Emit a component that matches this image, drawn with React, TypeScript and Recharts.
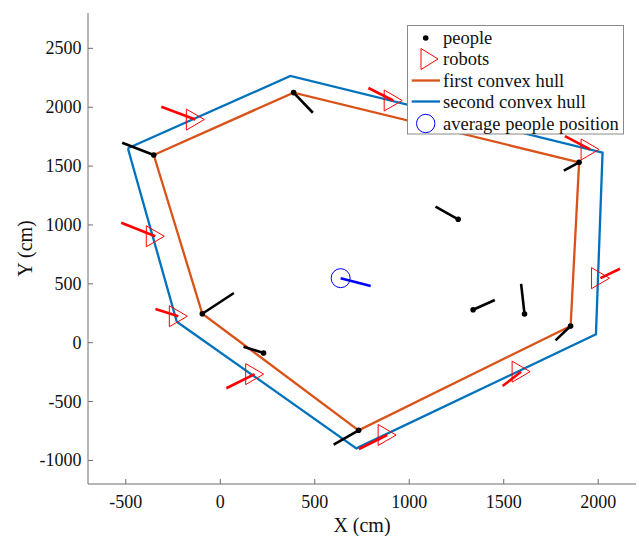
import React from "react";
import { ComposedChart, Line, Scatter, XAxis, YAxis } from "recharts";

// people positions and the end of their heading segments
const PEOPLE_X = [-352, 388, 1899, 1259, 1338, 1610, 1854, 732, 229, -95];
const PEOPLE_Y = [1594, 2124, 1532, 1048, 280, 244, 142, -744, -87, 246];
const PEOPLE_HEAD_X = [-519, 490, 1818, 1139, 1453, 1592, 1774, 600, 123, 72];
const PEOPLE_HEAD_Y = [1698, 1953, 1461, 1155, 363, 499, 20, -866, -34, 422];

// robot positions and the start of their tails
const ROBOT_X = [-132, -344, -222, 182, 883, 1592, 2012, 1957, 915];
const ROBOT_Y = [1895, 904, 225, -267, -784, -246, 548, 1641, 2057];
const ROBOT_TAIL_X = [-312, -524, -343, 32, 734, 1494, 2115, 1824, 784];
const ROBOT_TAIL_Y = [2004, 1019, 286, -387, -903, -368, 628, 1755, 2163];

// hull vertices (closed)
const HULL1_X = [-352, 388, 1899, 1854, 732, -95, -352];
const HULL1_Y = [1594, 2124, 1532, 142, -744, 246, 1594];
const HULL2_X = [-489, 371, 2023, 1988, 720, -230, -489];
const HULL2_Y = [1651, 2265, 1614, 71, -897, 178, 1651];

const AVG_X = [637];
const AVG_Y = [548];
const AVG_HEAD_X = [796];
const AVG_HEAD_Y = [481];

const X_TICKS = [-500, 0, 500, 1000, 1500, 2000];
const Y_TICKS = [-1000, -500, 0, 500, 1000, 1500, 2000, 2500];

const FONT = "'Liberation Serif', 'Times New Roman', serif";
const ORANGE = "#D95319";
const BLUE = "#0072BD";
const RED = "#FF0000";
const AXIS = "#6e6e6e";

const pts = (xs: number[], ys: number[]) => xs.map((x, i) => ({ x, y: ys[i] }));
const seg = (x0: number, y0: number, x1: number, y1: number) => [
  { x: x0, y: y0 },
  { x: x1, y: y1 },
];

const XTick = ({ x, y, payload }: any) => (
  <g>
    <line x1={x} x2={x} y1={y} y2={y - 5} stroke={AXIS} />
    <text x={x} y={y + 24} textAnchor="middle" fontSize={18} fontFamily={FONT} fill="#111">
      {payload.value}
    </text>
  </g>
);

const YTick = ({ x, y, payload }: any) => (
  <g>
    <line x1={x} x2={x + 5} y1={y} y2={y} stroke={AXIS} />
    <text x={x - 6.5} y={y + 6} textAnchor="end" fontSize={18} fontFamily={FONT} fill="#111">
      {payload.value}
    </text>
  </g>
);

const Triangle = ({ cx, cy }: any) => (
  <polygon
    points={`${cx - 9},${cy - 10.5} ${cx + 9},${cy} ${cx - 9},${cy + 10.5}`}
    fill="none"
    stroke={RED}
    strokeWidth={1}
  />
);

const Dot = ({ cx, cy }: any) => <circle cx={cx} cy={cy} r={2.8} fill="#000" />;

const Ring = ({ cx, cy }: any) => <circle cx={cx} cy={cy} r={9.5} fill="none" stroke="#0000FF" strokeWidth={1} />;

const LEGEND = ["people", "robots", "first convex hull", "second convex hull", "average people position"];
const ROWS = [38, 59, 80.5, 101.5, 123.5];

function LegendBox() {
  return (
    <svg width={639} height={536} style={{ position: "absolute", left: 0, top: 0, pointerEvents: "none" }}>
      <rect x={407.5} y={25.5} width={216} height={108.5} fill="#fff" stroke="#8a8a8a" strokeWidth={1} />
      <circle cx={425.7} cy={ROWS[0]} r={2.8} fill="#000" />
      <polygon
        points={`${421},${ROWS[1] - 10.5} ${438},${ROWS[1]} ${421},${ROWS[1] + 10.5}`}
        fill="none"
        stroke={RED}
      />
      <line x1={411.7} x2={440} y1={ROWS[2]} y2={ROWS[2]} stroke={ORANGE} strokeWidth={2.3} />
      <line x1={411.7} x2={440} y1={ROWS[3]} y2={ROWS[3]} stroke={BLUE} strokeWidth={2.3} />
      <circle cx={425.7} cy={ROWS[4]} r={9.2} fill="none" stroke="#0000FF" />
      {LEGEND.map((t, i) => (
        <text key={t} x={443} y={ROWS[i] + 6} fontSize={18.5} fontFamily={FONT} fill="#111">
          {t}
        </text>
      ))}
    </svg>
  );
}

export default function App() {
  const people = pts(PEOPLE_X, PEOPLE_Y);
  const robots = pts(ROBOT_X, ROBOT_Y);
  const avg = pts(AVG_X, AVG_Y);
  return (
    <div style={{ position: "absolute", left: 0, top: 0, width: 639, height: 536, background: "#fff" }}>
      <ComposedChart width={639} height={536} margin={{ top: 13, right: 3, bottom: 22, left: 8 }}>
        <XAxis
          type="number"
          dataKey="x"
          domain={[-700, 2200]}
          ticks={X_TICKS}
          allowDataOverflow
          height={30}
          stroke={AXIS}
          tickLine={false}
          tickSize={0}
          tickMargin={0}
          tick={<XTick />}
          label={{ value: "X (cm)", position: "bottom", offset: 4, fontSize: 20, fontFamily: FONT, fill: "#111" }}
        />
        <YAxis
          type="number"
          dataKey="y"
          domain={[-1200, 2800]}
          ticks={Y_TICKS}
          allowDataOverflow
          width={80}
          stroke={AXIS}
          tickLine={false}
          tickSize={0}
          tickMargin={0}
          tick={<YTick />}
          label={{
            value: "Y (cm)",
            angle: -90,
            position: "insideLeft",
            offset: 17,
            fontSize: 20,
            fontFamily: FONT,
            fill: "#111",
            style: { textAnchor: "middle" },
          }}
        />
        <Line data={pts(HULL1_X, HULL1_Y)} dataKey="y" stroke={ORANGE} strokeWidth={2.3} dot={false} isAnimationActive={false} />
        <Line data={pts(HULL2_X, HULL2_Y)} dataKey="y" stroke={BLUE} strokeWidth={2.3} dot={false} isAnimationActive={false} />
        {PEOPLE_X.map((x, i) => (
          <Line
            key={"p" + i}
            data={seg(x, PEOPLE_Y[i], PEOPLE_HEAD_X[i], PEOPLE_HEAD_Y[i])}
            dataKey="y"
            stroke="#000"
            strokeWidth={2.6}
            dot={false}
            isAnimationActive={false}
          />
        ))}
        {ROBOT_X.map((x, i) => (
          <Line
            key={"r" + i}
            data={seg(ROBOT_TAIL_X[i], ROBOT_TAIL_Y[i], x, ROBOT_Y[i])}
            dataKey="y"
            stroke={RED}
            strokeWidth={2.6}
            dot={false}
            isAnimationActive={false}
          />
        ))}
        <Line
          data={seg(AVG_X[0], AVG_Y[0], AVG_HEAD_X[0], AVG_HEAD_Y[0])}
          dataKey="y"
          stroke="#0000FF"
          strokeWidth={2.6}
          dot={false}
          isAnimationActive={false}
        />
        <Scatter data={people} dataKey="y" shape={<Dot />} isAnimationActive={false} />
        <Scatter data={robots} dataKey="y" shape={<Triangle />} isAnimationActive={false} />
        <Scatter data={avg} dataKey="y" shape={<Ring />} isAnimationActive={false} />
      </ComposedChart>
      <LegendBox />
    </div>
  );
}
